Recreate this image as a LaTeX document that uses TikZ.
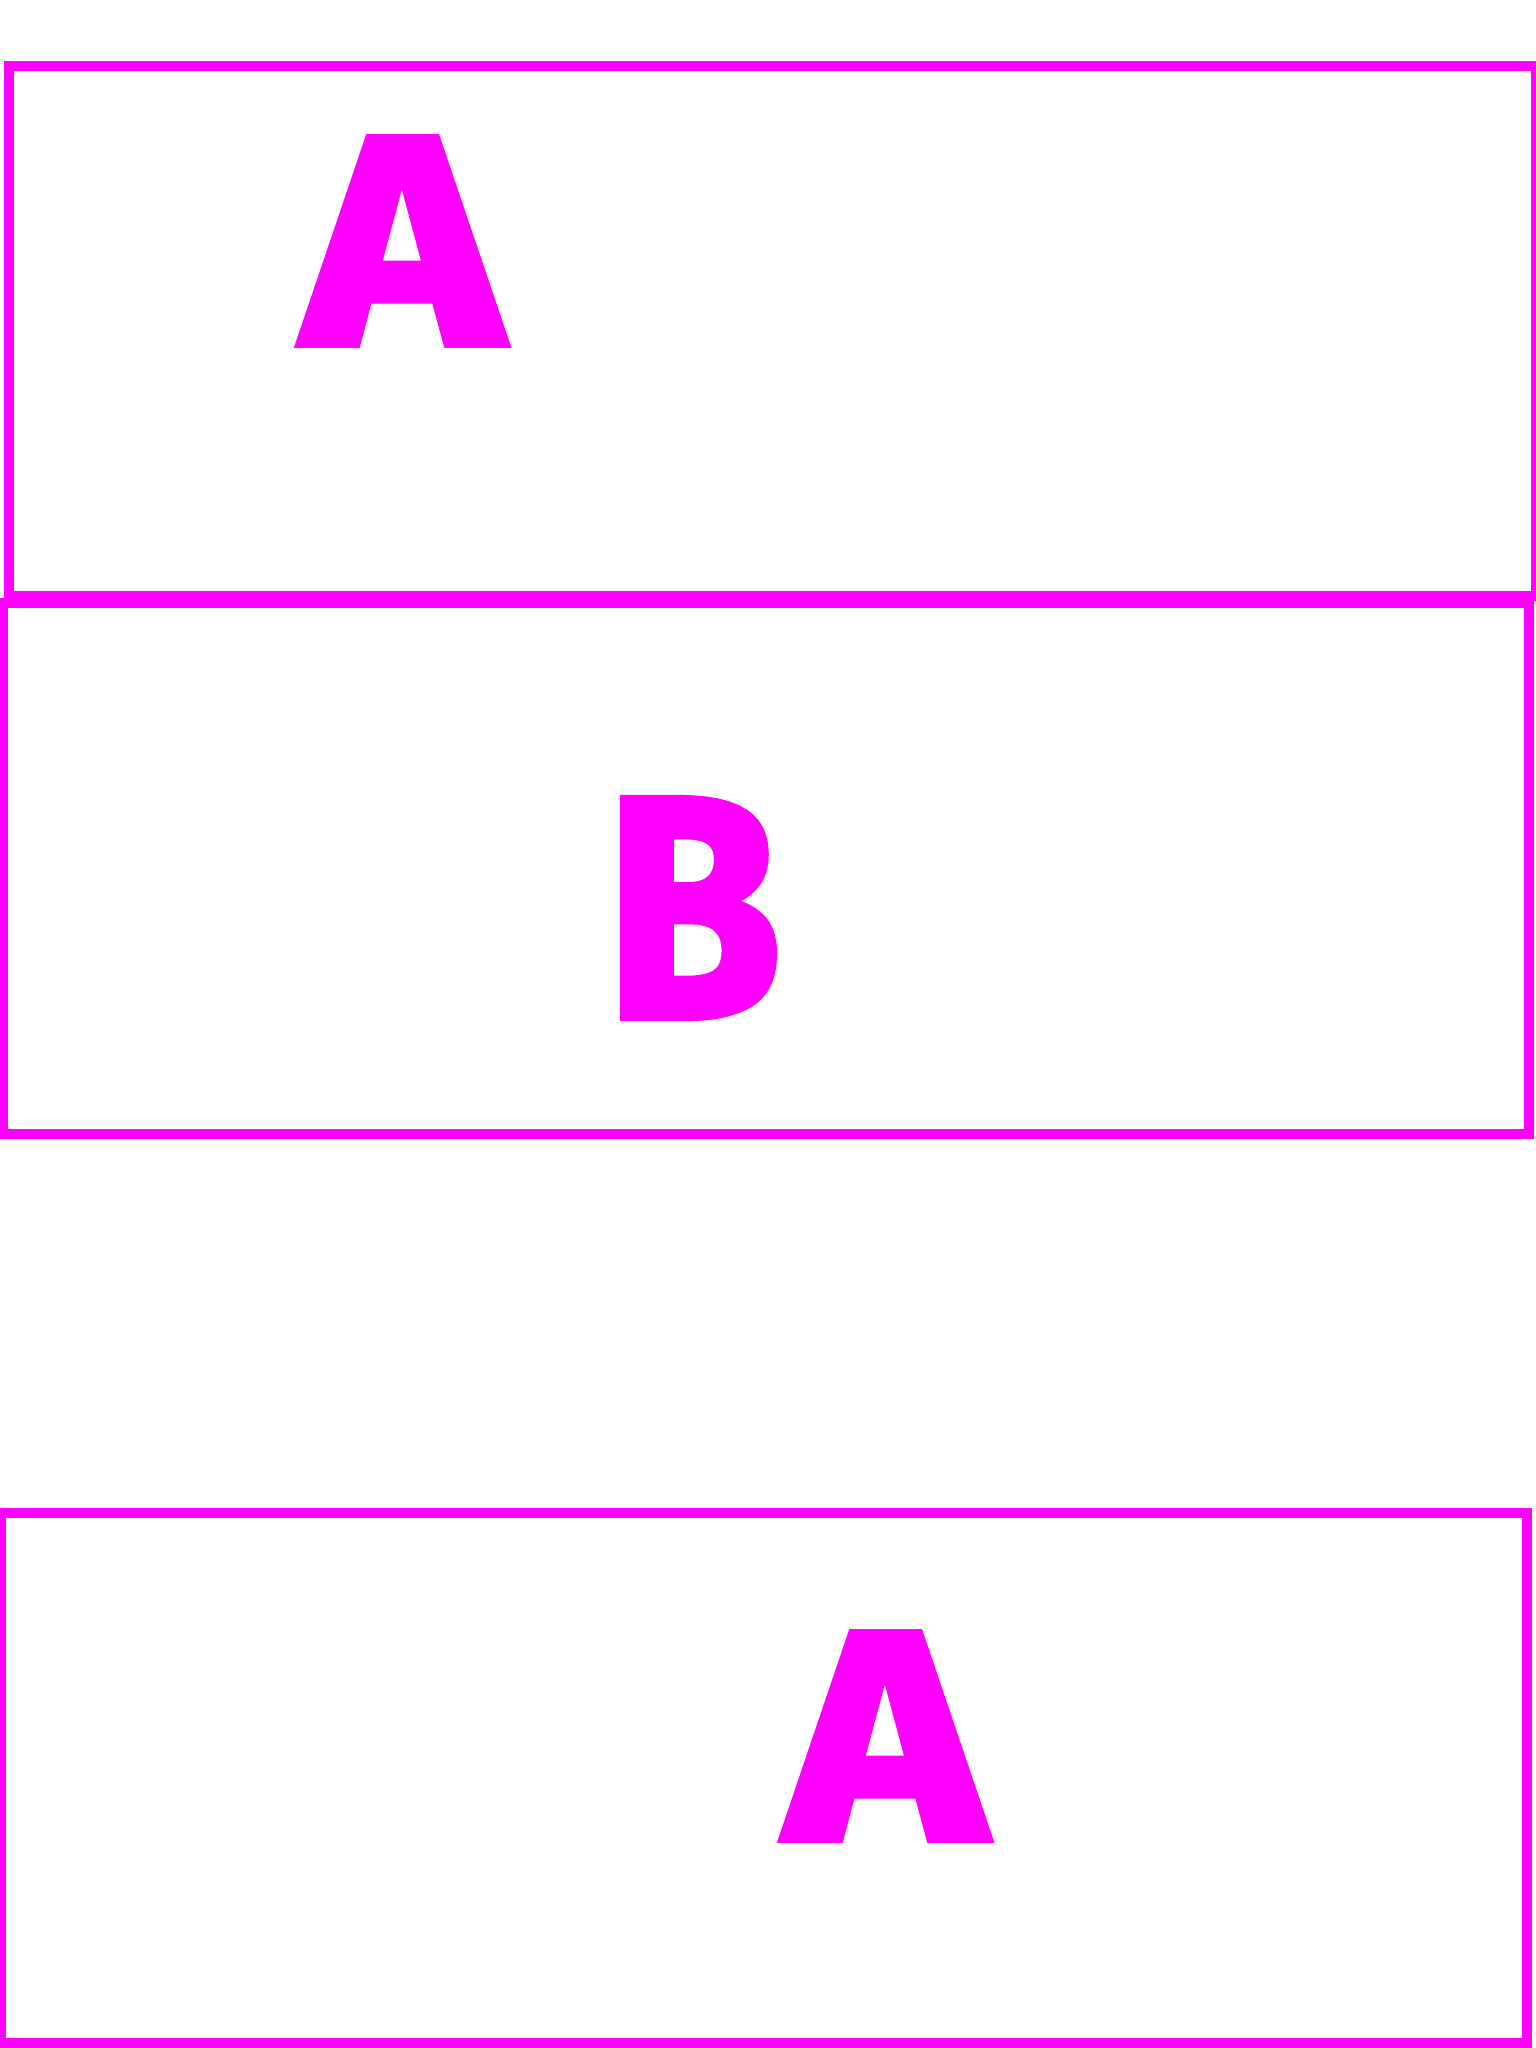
\documentclass[tikz,border=0pt]{standalone}
\usepackage{fontspec}
\usepackage{graphicx}
\newfontfamily\heavyfont{Fira Sans}[BoldFeatures={FakeBold=2.5}]
\definecolor{mag}{HTML}{FF00FF}
\tikzset{
  panel/.style={draw=mag, line width=10pt, inner sep=0pt, outer sep=0pt, anchor=north west},
  letter/.style={text=mag, inner sep=0pt, outer sep=0pt, font=\heavyfont\bfseries}
}
\begin{document}
\begin{tikzpicture}[x=1pt,y=-1pt]
\useasboundingbox (0,0) rectangle (1536,2048);
\clip (0,0) rectangle (1536,2048);
\node[panel, minimum width=1527.5pt, minimum height=530pt] (box1) at (8.5,66) {};
\node[panel, minimum width=1526pt, minimum height=531pt] (box2) at (2.5,603) {};
\node[panel, minimum width=1526.5pt, minimum height=530pt] (box3) at (0.5,1513) {};
\node[letter] (a1) at (402.5,241) {\resizebox{197pt}{206pt}{A}};
\node[letter] (b) at (693,908) {\resizebox{176pt}{218pt}{B}};
\node[letter] (a3) at (885.5,1736) {\resizebox{197pt}{206pt}{A}};
\end{tikzpicture}
\end{document}
